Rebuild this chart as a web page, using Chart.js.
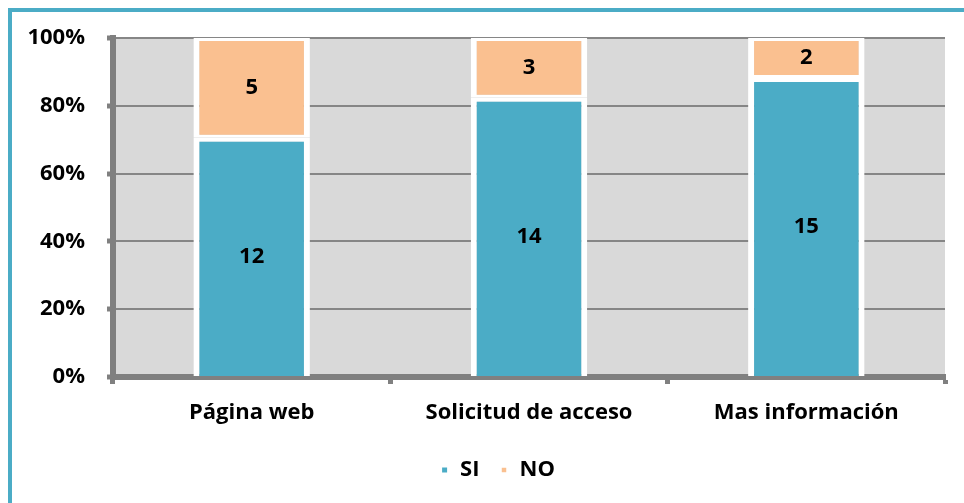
<!DOCTYPE html>
<html>
<head>
<meta charset="utf-8">
<script src="https://cdn.jsdelivr.net/npm/chart.js@4"></script>
<style>
  body { margin:0; background:#fff; }
  #frame { position:absolute; left:8px; top:8px; width:960px; height:500px;
           border-left:4px solid #4bacc6; border-top:4px solid #4bacc6; }
  #wrap { position:absolute; left:0; top:0; width:964px; height:503px; }
</style>
</head>
<body>
<div id="frame"></div>
<div id="wrap"><canvas id="grafico"></canvas></div>
<script>
// datos del grafico
var categorias = ['Página web', 'Solicitud de acceso', 'Mas información'];
var si = [12, 14, 15];
var no = [5, 3, 2];
var ticksY = [0, 20, 40, 60, 80, 100];

var fuente = "'Open Sans', sans-serif";

function porcentaje(serie){
    var out = [];
    for(var i = 0; i < serie.length; i++){
        out.push(serie[i] / (si[i] + no[i]) * 100);
    }
    return out;
}

// fondo gris del area de trazado
var fondo = {
    id: 'fondo',
    afterLayout: function(chart){
        // la leyenda va un poco a la derecha, como en el original
        if(chart.legend){ chart.legend.left = 50; }
    },
    beforeDraw: function(chart){
        var a = chart.chartArea, ctx = chart.ctx;
        ctx.save();
        ctx.fillStyle = '#d9d9d9';
        ctx.fillRect(a.left, a.top, a.right - a.left, a.bottom - a.top);
        ctx.restore();
    }
};

// etiquetas con los valores dentro de cada segmento
var etiquetas = {
    id: 'etiquetas',
    afterDatasetsDraw: function(chart){
        var ctx = chart.ctx;
        ctx.save();
        ctx.font = 'bold 22px ' + fuente;
        ctx.fillStyle = '#000';
        ctx.textAlign = 'center';
        ctx.textBaseline = 'middle';
        chart.data.datasets.forEach(function(ds, d){
            chart.getDatasetMeta(d).data.forEach(function(bar, i){
                var mid = (bar.y + bar.base) / 2;
                ctx.fillText(ds.cuentas[i], bar.x, mid);
            });
        });
        ctx.restore();
    }
};

var ctx = document.getElementById('grafico');
var grafico = new Chart(ctx, {
    type: 'bar',
    data: {
        labels: categorias,
        datasets: [{
            label: 'SI',
            data: porcentaje(si),
            cuentas: si,
            backgroundColor: '#4bacc6',
            borderColor: '#ffffff',
            borderWidth: {top: 4, bottom: 0, left: 6, right: 6},
            borderSkipped: false
        }, {
            label: 'NO',
            data: porcentaje(no),
            cuentas: no,
            backgroundColor: '#fac090',
            borderColor: '#ffffff',
            borderWidth: {top: 3, bottom: 3, left: 6, right: 6},
            borderSkipped: false
        }]
    },
    options: {
        responsive: true,
        maintainAspectRatio: false,
        animation: false,
        barPercentage: 0.42,
        categoryPercentage: 1,
        layout: { padding: {top: 38, right: 19, left: 0, bottom: 12} },
        plugins: {
            tooltip: { enabled: false },
            legend: {
                position: 'bottom',
                labels: {
                    boxWidth: 9,
                    boxHeight: 9,
                    padding: 20,
                    color: '#000',
                    font: { family: fuente, size: 22, weight: 'bold' }
                }
            }
        },
        scales: {
            x: {
                stacked: true,
                grid: {
                    drawOnChartArea: false,
                    offset: true,
                    tickLength: 7,
                    tickWidth: 5,
                    tickColor: '#808080'
                },
                border: { color: '#808080', width: 6 },
                ticks: {
                    padding: 16,
                    color: '#000',
                    font: { family: fuente, size: 22, weight: 'bold' }
                },
                afterFit: function(scale){ scale.height = 62; }
            },
            y: {
                stacked: true,
                min: 0,
                max: 100,
                afterBuildTicks: function(scale){
                    scale.ticks = ticksY.map(function(v){ return {value: v}; });
                },
                grid: {
                    color: '#868686',
                    lineWidth: 2,
                    tickLength: 6,
                    tickWidth: 5,
                    tickColor: '#808080'
                },
                border: { color: '#808080', width: 6 },
                ticks: {
                    padding: 22,
                    color: '#000',
                    font: { family: fuente, size: 22, weight: 'bold' },
                    callback: function(v){ return v + '%'; }
                },
                afterFit: function(scale){ scale.width = 113; }
            }
        }
    },
    plugins: [fondo, etiquetas]
});
</script>
</body>
</html>
